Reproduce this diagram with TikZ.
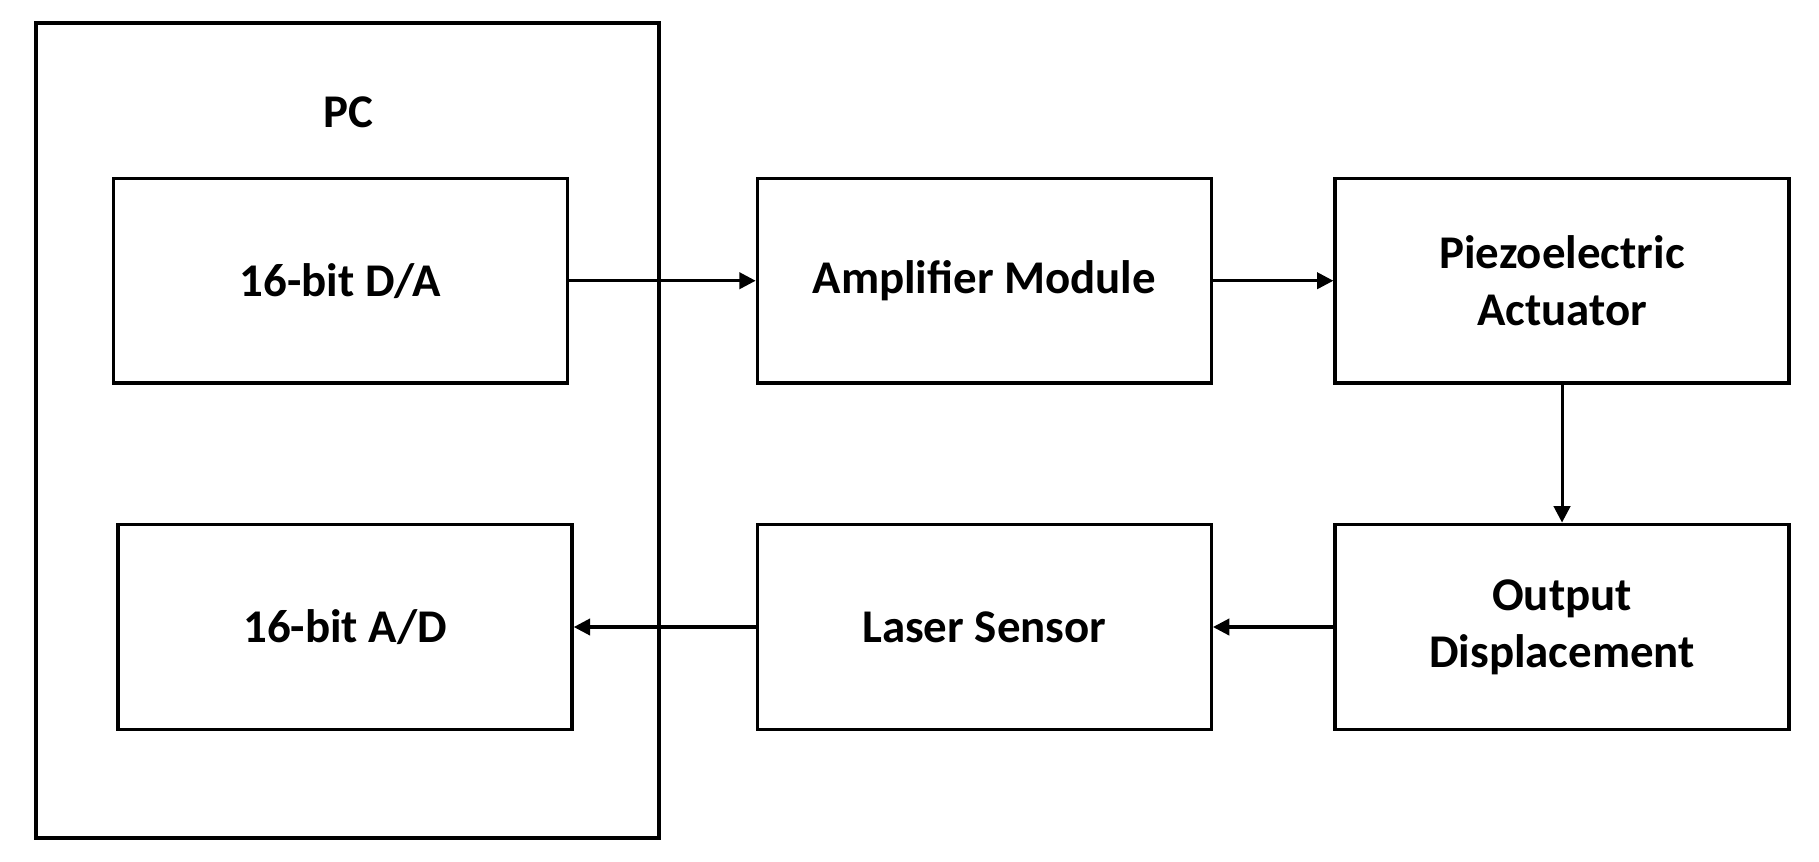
\documentclass[tikz,border=0pt]{standalone}
\usepackage{fontspec}
\setmainfont{Carlito}
\usetikzlibrary{arrows.meta}
\begin{document}
\begin{tikzpicture}[x=0.01cm,y=-0.01cm,
  box/.style={draw,line width=0.85pt,inner sep=0pt,font=\bfseries\fontsize{11.5}{14}\selectfont,align=center},
  arr/.style={line width=0.75pt,-{Triangle[length=4pt,width=4pt]}}]
\useasboundingbox (0,0) rectangle (1568,743);
\node[box,minimum width=537\pgflinewidth] (pc) at (299.5,371) [minimum width=5.37cm,minimum height=7.02cm] {};
\node[font=\bfseries\fontsize{11.5}{14}\selectfont] (pcl) at (300,97) {PC};
\node[box,minimum width=3.91cm,minimum height=1.76cm] (da) at (293.5,242) {16-bit D/A};
\node[box,minimum width=3.91cm,minimum height=1.77cm] (ad) at (297.5,540.5) {16-bit A/D};
\node[box,minimum width=3.91cm,minimum height=1.76cm] (amp) at (848.5,242) {Amplifier Module};
\node[box,minimum width=3.91cm,minimum height=1.76cm] (pz) at (1346.5,242) {Piezoelectric\\Actuator};
\node[box,minimum width=3.91cm,minimum height=1.77cm] (ls) at (848.5,540.5) {Laser Sensor};
\node[box,minimum width=3.91cm,minimum height=1.77cm] (od) at (1346.5,540.5) {Output\\Displacement};
\draw[arr] (da) -- (amp);
\draw[arr] (amp) -- (pz);
\draw[arr] (pz) -- (od);
\draw[arr] (od) -- (ls);
\draw[arr] (ls) -- (ad);
\end{tikzpicture}
\end{document}
